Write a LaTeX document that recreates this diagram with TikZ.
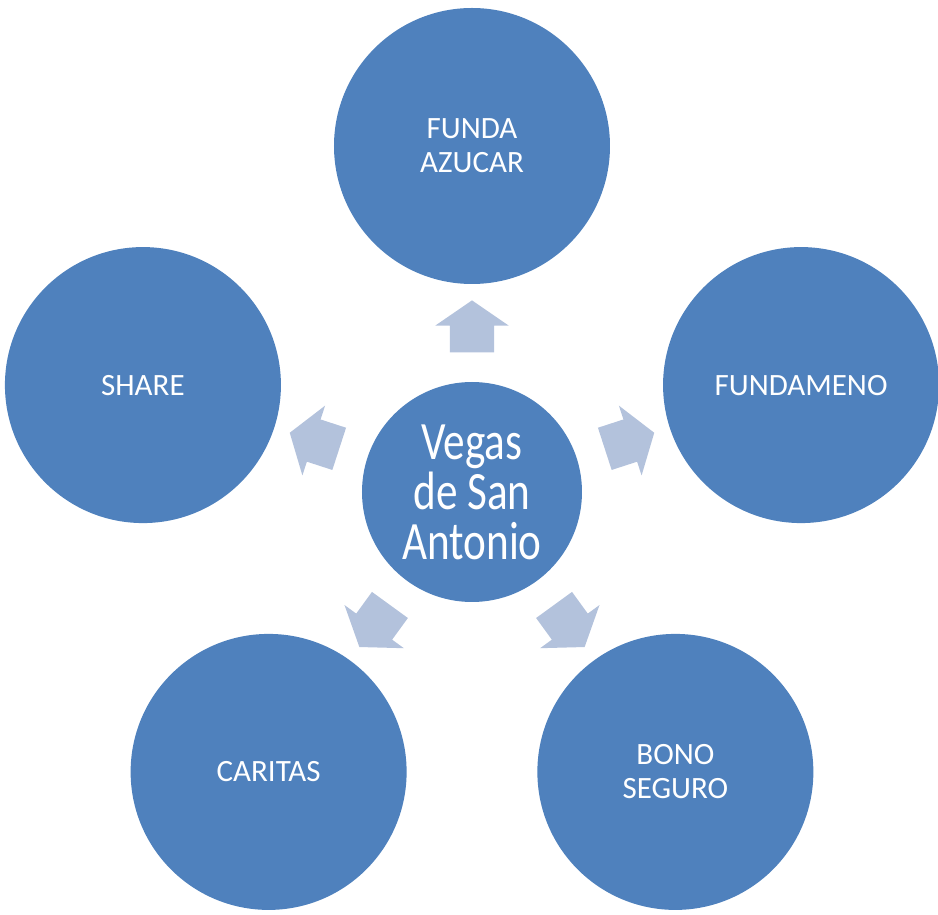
\documentclass[tikz,border=0pt]{standalone}
\usepackage{fontspec}
\setmainfont{Carlito}
\newfontfamily\hubfont[FakeStretch=0.8]{Carlito}
\usetikzlibrary{shapes.arrows}
\definecolor{accentblue}{HTML}{4F81BD}
\definecolor{paleblue}{HTML}{B3C2DC}

\begin{document}
\begin{tikzpicture}[x=1pt,y=1pt,
    leaf/.style={circle,fill=accentblue,minimum size=276pt,inner sep=0pt,
      text=white,align=center,font=\fontsize{31}{34}\selectfont},
    hub/.style={circle,fill=accentblue,minimum size=220pt,inner sep=0pt,
      text=white,align=center,font=\hubfont\fontsize{54}{50}\selectfont},
    pointer/.style={single arrow,fill=paleblue,minimum height=52pt,
      inner xsep=0pt,inner ysep=22pt,single arrow head extend=14.5pt,
      single arrow tip angle=111}]
    \useasboundingbox (-472,-423) rectangle (466,492);
    \node[hub] (hub) at (0,0) {Vegas\\de San\\Antonio};
    \node[leaf] (azucar)  at (90:346)  {FUNDA\\AZUCAR};
    \node[leaf] (fundamento) at (18:346) {FUNDAMENO};
    \node[leaf] (bono)    at (-54:346) {BONO\\SEGURO};
    \node[leaf] (caritas) at (-126:346) {CARITAS};
    \node[leaf] (share)   at (162:346) {SHARE};
    % arrows pointing out of the hub
    \foreach \a/\n in {90/up,18/right,-54/lowright,-126/lowleft,162/left}
        \node[pointer,rotate=\a] (to-\n) at (\a:158) {};
\end{tikzpicture}
\end{document}
